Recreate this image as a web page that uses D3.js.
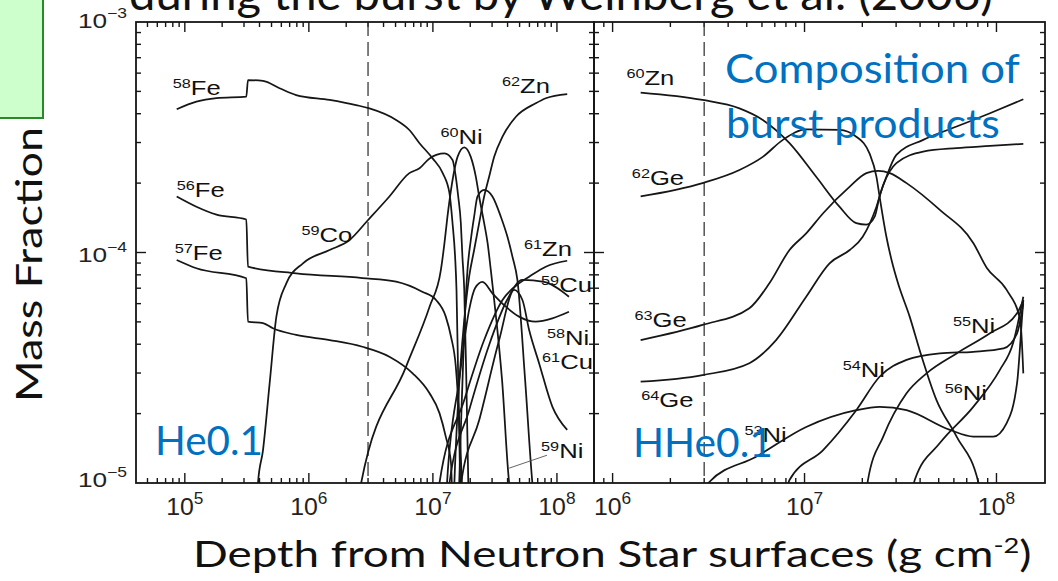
<!DOCTYPE html>
<html><head><meta charset="utf-8">
<script src="https://cdn.jsdelivr.net/npm/d3@7"></script>
<style>body{margin:0;background:#fff;} svg{display:block}</style>
</head><body><svg id="c" width="1058" height="581"></svg>
<script>
// ---------------- DATA ----------------
const yDomain = [1e-5, 1e-3];
const leftXDomain = [4.04e4, 1.99e8];
const rightXDomain = [8.0e5, 1.79e8];
const leftXTicks = [1e5, 1e6, 1e7, 1e8];
const rightXTicks = [1e6, 1e7, 1e8];
const yTickValues = [1e-3, 1e-4, 1e-5];
const dashedDepth = 3e6;

// He0.1 panel (depth g/cm^2, mass fraction)
const fe58 = [[8.6e4,4.18e-4],[1.24e5,4.51e-4],[1.8e5,4.67e-4],[3.13e5,4.74e-4],[3.23e5,5.6e-4],[4.27e5,5.55e-4],[5.8e5,5.16e-4],[7.9e5,4.82e-4],[1.47e6,4.59e-4],[2.4e6,4.36e-4],[3.08e6,4.22e-4],[5.05e6,3.76e-4],[6.46e6,3.4e-4],[7.8e6,2.98e-4],[9.95e6,2.56e-4],[1.2e7,2.21e-4],[1.36e7,1.81e-4],[1.44e7,1.34e-4],[1.51e7,9.59e-5],[1.55e7,6.88e-5],[1.6e7,2.8e-5],[1.66e7,1e-5],[1.68e7,8e-6]];
const fe56 = [[8.6e4,1.75e-4],[1.24e5,1.58e-4],[1.8e5,1.46e-4],[3.13e5,1.39e-4],[3.23e5,8.68e-5],[7.9e5,8.12e-5],[2.7e6,7.75e-5],[5.05e6,7.47e-5],[8.2e6,6.76e-5],[1.06e7,6.22e-5],[1.27e7,5.27e-5],[1.4e7,4.31e-5],[1.53e7,3.2e-5],[1.63e7,1.87e-5],[1.71e7,1e-5],[1.73e7,8e-6]];
const fe57 = [[8.6e4,9.28e-5],[1.24e5,8.54e-5],[3.13e5,7.73e-5],[3.23e5,5.01e-5],[4.27e5,4.94e-5],[5.13e5,4.69e-5],[7.9e5,4.39e-5],[1.47e6,4.17e-5],[2.7e6,3.9e-5],[4.46e6,3.53e-5],[6.87e6,2.99e-5],[9.4e6,2.45e-5],[1.13e7,2.01e-5],[1.27e7,1.59e-5],[1.4e7,1.22e-5],[1.42e7,1e-5],[1.44e7,8e-6]];
const co59 = [[3.8e5,8e-6],[3.89e5,1e-5],[4.27e5,1.39e-5],[4.83e5,2.71e-5],[5.47e5,5.27e-5],[6.58e5,7.35e-5],[8.96e5,8.98e-5],[1.47e6,1.025e-4],[2.12e6,1.13e-4],[2.99e6,1.38e-4],[4.46e6,1.75e-4],[6.46e6,2.21e-4],[7.8e6,2.32e-4],[9.4e6,2.56e-4],[1.24e7,2.69e-4],[1.44e7,2.52e-4],[1.53e7,2.13e-4],[1.6e7,1.75e-4],[1.68e7,1.34e-4],[1.73e7,9.59e-5],[1.79e7,6.88e-5],[1.86e7,2.8e-5],[1.93e7,1e-5],[1.95e7,8e-6]];
const ni60 = [[2.5e6,8.5e-6],[2.64e6,1e-5],[6.08e6,3.2e-5],[9.4e6,5.82e-5],[1.16e7,8.4e-5],[1.24e7,1.1e-4],[1.31e7,1.43e-4],[1.4e7,1.87e-4],[1.49e7,2.28e-4],[1.58e7,2.6e-4],[1.79e7,2.86e-4],[2.02e7,2.6e-4],[2.22e7,2.13e-4],[2.36e7,1.75e-4],[2.59e7,1.34e-4],[2.76e7,1.1e-4],[2.93e7,8.4e-5],[3.12e7,6.22e-5],[3.61e7,2.8e-5],[4.12e7,1e-5],[4.3e7,8.5e-6]];
const peakA = [[1.6e7,8e-6],[1.63e7,1e-5],[1.69e7,1.87e-5],[1.79e7,4.61e-5],[1.9e7,8.4e-5],[2.02e7,1.13e-4],[2.15e7,1.43e-4],[2.29e7,1.75e-4],[2.59e7,1.87e-4],[3.02e7,1.75e-4],[3.53e7,1.43e-4],[3.99e7,1.17e-4],[4.38e7,9.59e-5],[4.8e7,7.6e-5],[5.54e7,2.8e-5],[6.34e7,1e-5],[6.6e7,8e-6]];
const zn62 = [[1.47e7,8e-6],[1.49e7,1e-5],[1.6e7,2.29e-5],[1.79e7,5.09e-5],[1.96e7,7.85e-5],[2.15e7,1.025e-4],[2.36e7,1.34e-4],[2.59e7,1.75e-4],[2.84e7,2.13e-4],[3.12e7,2.6e-4],[3.64e7,3.18e-4],[4.67e7,3.88e-4],[6.75e7,4.44e-4],[8.13e7,4.67e-4],[1.21e8,4.87e-4]];
const zn61 = [[1.1e7,8e-6],[1.13e7,1e-5],[1.79e7,2.29e-5],[2.59e7,4.17e-5],[3.64e7,6.22e-5],[4.95e7,7.35e-5],[5.97e7,7.85e-5],[8.13e7,8.68e-5],[1.21e8,9.21e-5]];
const cu59 = [[1.33e7,8e-6],[1.36e7,1e-5],[1.96e7,2.07e-5],[2.84e7,3.97e-5],[3.96e7,6.22e-5],[5.27e7,7.6e-5],[7.87e7,7.45e-5],[1.25e8,6.43e-5]];
const cu61 = [[1.66e7,8e-6],[1.69e7,1e-5],[2.36e7,1.87e-5],[3.42e7,4.17e-5],[4.52e7,6.88e-5],[5.27e7,6.22e-5],[5.97e7,4.61e-5],[7.18e7,3.31e-5],[9.2e7,2.14e-5],[1.21e8,1.7e-5]];
const ni58 = [[1.27e7,8e-6],[1.3e7,1e-5],[1.63e7,2.8e-5],[1.96e7,5.64e-5],[2.19e7,7.01e-5],[2.51e7,7.45e-5],[3.02e7,6.65e-5],[3.87e7,5.82e-5],[4.95e7,5.27e-5],[6.75e7,5.01e-5],[9.2e7,5.18e-5],[1.25e8,5.53e-5]];

// HHe0.1 panel
const zn60 = [[1.4e6,4.94e-4],[2.94e6,4.59e-4],[4.58e6,4.22e-4],[6.06e6,3.76e-4],[8.35e6,2.98e-4],[1.15e7,2.13e-4],[1.52e7,1.58e-4],[1.86e7,1.34e-4],[2.1e7,1.32e-4],[2.32e7,1.43e-4],[2.46e7,1.75e-4],[2.67e7,2.13e-4],[3.01e7,2.65e-4],[4.15e7,3.08e-4],[6.2e7,3.52e-4],[9.25e7,4.02e-4],[1.38e8,4.62e-4]];
const ge62 = [[1.4e6,1.75e-4],[2.94e6,2e-4],[4.58e6,2.28e-4],[6.06e6,2.6e-4],[7.71e6,3.08e-4],[1.02e7,3.42e-4],[1.52e7,3.4e-4],[1.86e7,3.18e-4],[2.18e7,2.69e-4],[2.37e7,2.13e-4],[2.46e7,1.75e-4],[2.67e7,1.17e-4],[2.84e7,9.28e-5],[3.07e7,7.35e-5],[3.53e7,5.27e-5],[3.98e7,3.77e-5],[4.87e7,2.29e-5],[6.2e7,1.59e-5],[8.04e7,1.01e-5],[8.3e7,9e-6]];
const ge63 = [[1.4e6,4.17e-5],[2.94e6,4.85e-5],[5.16e6,5.73e-5],[6.56e6,7.35e-5],[8.35e6,1.025e-4],[1.02e7,1.21e-4],[1.25e7,1.48e-4],[1.72e7,1.93e-4],[2.1e7,2.21e-4],[2.42e7,2.26e-4],[2.78e7,2.21e-4],[3.4e7,2e-4],[5.07e7,1.53e-4],[7.57e7,1.1e-4],[8.91e7,8.57e-5],[1.13e8,6.88e-5],[1.33e8,5.09e-5],[1.38e8,2.99e-5]];
const ge64 = [[1.4e6,2.75e-5],[2.94e6,2.94e-5],[5.16e6,3.31e-5],[7.11e6,4.17e-5],[1.02e7,6.43e-5],[1.35e7,8.98e-5],[1.72e7,1.025e-4],[2.01e7,1.17e-4],[2.37e7,1.58e-4],[2.57e7,1.96e-4],[3.01e7,2.44e-4],[4.15e7,2.74e-4],[6.2e7,2.84e-4],[9.25e7,2.9e-4],[1.38e8,2.96e-4]];
const ni53 = [[3.0e6,9.5e-6],[3.19e6,1.01e-5],[5.6e6,1.3e-5],[1.02e7,1.75e-5],[1.86e7,2.07e-5],[2.46e7,2.14e-5],[3.4e7,2.07e-5],[5.72e7,1.7e-5],[7.57e7,1.59e-5],[9.62e7,1.59e-5],[1.13e8,1.82e-5],[1.28e8,2.71e-5],[1.36e8,5.27e-5],[1.38e8,6.22e-5]];
const ni54 = [[8.0e6,9e-6],[8.35e6,1.03e-5],[1.25e7,1.39e-5],[1.86e7,2.07e-5],[2.46e7,2.89e-5],[3.4e7,3.42e-5],[5.07e7,3.65e-5],[7.57e7,3.71e-5],[1.09e8,3.84e-5],[1.28e8,4.46e-5],[1.38e8,6.0e-5]];
const ni55 = [[2.1e7,9e-6],[2.14e7,1.03e-5],[2.57e7,1.59e-5],[3.4e7,2.45e-5],[4.32e7,2.99e-5],[6.2e7,3.65e-5],[9.25e7,4.46e-5],[1.28e8,5.45e-5],[1.38e8,6.22e-5]];
const ni56 = [[3.65e7,9e-6],[3.75e7,1.03e-5],[5.07e7,1.49e-5],[7.57e7,2.14e-5],[1.04e8,3.09e-5],[1.22e8,4.04e-5],[1.38e8,6.43e-5]];

const leftCurves = [fe58, fe56, fe57, co59, ni60, peakA, zn62, zn61, cu59, cu61, ni58];
const rightCurves = [zn60, ge62, ge63, ge64, ni53, ni54, ni55, ni56];

// isotope labels (anchored in data coordinates)
const leftLabels = [
  {a:"58", el:"Fe", x:8.0e4, y:4.82e-4},
  {a:"56", el:"Fe", x:8.6e4, y:1.74e-4},
  {a:"57", el:"Fe", x:8.3e4, y:9.28e-5},
  {a:"59", el:"Co", x:8.73e5, y:1.11e-4},
  {a:"60", el:"Ni", x:1.15e7, y:2.96e-4},
  {a:"62", el:"Zn", x:3.61e7, y:4.92e-4},
  {a:"61", el:"Zn", x:5.43e7, y:9.66e-5},
  {a:"59", el:"Cu", x:7.45e7, y:6.75e-5},
  {a:"58", el:"Ni", x:8.32e7, y:3.97e-5},
  {a:"61", el:"Cu", x:7.59e7, y:3.13e-5},
  {a:"59", el:"Ni", x:7.45e7, y:1.28e-5}
];
const ni59Leader = [[8.32e7,1.32e-5],[4.12e7,1.16e-5]];
const rightLabels = [
  {a:"60", el:"Zn", x:1.18e6, y:5.33e-4},
  {a:"62", el:"Ge", x:1.26e6, y:1.96e-4},
  {a:"63", el:"Ge", x:1.30e6, y:4.75e-5},
  {a:"64", el:"Ge", x:1.41e6, y:2.14e-5},
  {a:"53", el:"Ni", x:4.86e6, y:1.51e-5},
  {a:"54", el:"Ni", x:1.58e7, y:2.88e-5},
  {a:"55", el:"Ni", x:5.93e7, y:4.48e-5},
  {a:"56", el:"Ni", x:5.38e7, y:2.29e-5}
];

// ---------------- DRAWING ----------------
const svg = d3.select("#c");
svg.append("rect").attr("width",1058).attr("height",581).attr("fill","#fff");

const yS = d3.scaleLog().domain(yDomain).range([483, 22]);
const xL = d3.scaleLog().domain(leftXDomain).range([136, 594]);
const xR = d3.scaleLog().domain(rightXDomain).range([594, 1045]);

const INK = "#161616";
const TICKFONT = "'Liberation Sans', Arial, Helvetica, sans-serif";
const BIGFONT = "Lato, 'Open Sans', sans-serif";

function logTicks(dom){
  const out=[]; const a=dom[0], b=dom[1];
  for(let d=Math.floor(Math.log10(a)); d<=Math.ceil(Math.log10(b)); d++)
    for(let k=1;k<10;k++){ const v=k*Math.pow(10,d); if(v>=a*1.0001 && v<=b*0.9999) out.push({v, major:k===1}); }
  return out;
}

function drawPanel(id, xs, curves, labels){
  const g = svg.append("g");
  const [x0,x1] = xs.range(); const y1 = yS.range()[0], y0 = yS.range()[1];
  const clipId = "clip"+id;
  svg.append("defs").append("clipPath").attr("id",clipId).append("rect")
    .attr("x",x0).attr("y",y0).attr("width",x1-x0).attr("height",y1-y0);
  // ticks
  const tg = g.append("g").attr("stroke",INK).attr("stroke-width",1.4);
  logTicks(xs.domain()).forEach(t=>{
    const px = xs(t.v), len = t.major?10:5;
    tg.append("line").attr("x1",px).attr("x2",px).attr("y1",y1).attr("y2",y1-len);
    tg.append("line").attr("x1",px).attr("x2",px).attr("y1",y0).attr("y2",y0+len);
  });
  logTicks(yS.domain()).forEach(t=>{
    const py = yS(t.v), len = t.major?10:5;
    tg.append("line").attr("x1",x0).attr("x2",x0+len).attr("y1",py).attr("y2",py);
    tg.append("line").attr("x1",x1).attr("x2",x1-len).attr("y1",py).attr("y2",py);
  });
  // dashed line
  g.append("line").attr("x1",xs(dashedDepth)).attr("x2",xs(dashedDepth))
    .attr("y1",y0).attr("y2",y1).attr("stroke","#3a3a3a").attr("stroke-width",1.3)
    .attr("stroke-dasharray","14,6");
  // curves
  const line = d3.line().x(d=>xs(d[0])).y(d=>yS(d[1])).curve(d3.curveMonotoneX);
  const cg = g.append("g").attr("clip-path",`url(#${clipId})`);
  curves.forEach(c=>{
    cg.append("path").attr("d",line(c)).attr("fill","none").attr("stroke",INK).attr("stroke-width",1.75);
  });
  // frame
  g.append("rect").attr("x",x0).attr("y",y0).attr("width",x1-x0).attr("height",y1-y0)
    .attr("fill","none").attr("stroke",INK).attr("stroke-width",1.8);
  // isotope labels
  labels.forEach(d=>{
    const t = g.append("text").attr("font-family",TICKFONT).attr("fill","#111")
      .attr("transform",`translate(${xs(d.x)},${yS(d.y)}) scale(1.25,1)`);
    t.append("tspan").attr("font-size",13).attr("dy",-7).text(d.a);
    t.append("tspan").attr("font-size",20.5).attr("dy",7).text(d.el);
  });
  return g;
}

const gL = drawPanel("L", xL, leftCurves, leftLabels);
gL.append("line").attr("x1",xL(ni59Leader[0][0])).attr("y1",yS(ni59Leader[0][1]))
  .attr("x2",xL(ni59Leader[1][0])).attr("y2",yS(ni59Leader[1][1]))
  .attr("stroke","#555").attr("stroke-width",0.9);
drawPanel("R", xR, rightCurves, rightLabels);

// x tick labels
function xLabels(xs, ticks){
  ticks.forEach(v=>{
    const t = svg.append("text").attr("font-family",TICKFONT).attr("fill","#222")
      .attr("text-anchor","middle").attr("transform",`translate(${xs(v)},515) scale(1.08,1)`);
    t.append("tspan").attr("font-size",23).text("10");
    t.append("tspan").attr("font-size",16).attr("dy",-11).text(String(Math.round(Math.log10(v))));
  });
}
xLabels(xL, leftXTicks);
xLabels(xR, rightXTicks);

// y tick labels
const yLabelBase = {"-3":28, "-4":262, "-5":487};
yTickValues.forEach(v=>{
  const e = String(Math.round(Math.log10(v)));
  const t = svg.append("text").attr("font-family",TICKFONT).attr("fill","#222")
    .attr("text-anchor","end").attr("transform",`translate(127,${yLabelBase[e]}) scale(1.25,1)`);
  t.append("tspan").attr("font-size",21).text("10");
  t.append("tspan").attr("font-size",14).attr("dy",-10).text("\u2212"+e.replace("-",""));
});

// helper: stretch a text to fit horizontal span
function fitText(sel, x0, x1, y){
  const bb = sel.node().getBBox();
  const s = (x1-x0)/bb.width;
  sel.attr("transform",`translate(${x0 - bb.x*s},${y}) scale(${s},1)`);
}

// green box
svg.append("rect").attr("x",-2).attr("y",-2).attr("width",45).attr("height",120)
  .attr("fill","#ccffcc").attr("stroke","#2a8a2a").attr("stroke-width",2);

// title (clipped at top)
const title = svg.append("text").attr("font-family",BIGFONT).attr("font-size",44).attr("fill","#111")
  .text("during the burst by Weinberg et al. (2006)");
fitText(title, 129, 993, 10);

// axis titles
const ytitle = svg.append("text").attr("font-family",BIGFONT).attr("font-size",37).attr("fill","#111")
  .text("Mass Fraction");
{ const bb = ytitle.node().getBBox(); const s = 275/bb.width;
  ytitle.attr("transform",`translate(42,402) rotate(-90) scale(${s},1)`); }

const xtitle = svg.append("text").attr("font-family",BIGFONT).attr("font-size",37).attr("fill","#111");
xtitle.append("tspan").text("Depth from  Neutron Star surfaces (g cm");
xtitle.append("tspan").attr("font-size",22).attr("dy",-14).text("-2");
xtitle.append("tspan").attr("dy",14).text(")");
fitText(xtitle, 193, 1032, 567);

// blue annotations
const BLUE = "#0070c0";
const c1 = svg.append("text").attr("font-family",BIGFONT).attr("font-size",40).attr("fill",BLUE).text("Composition  of");
fitText(c1, 725, 1020, 83);
const c2 = svg.append("text").attr("font-family",BIGFONT).attr("font-size",40).attr("fill",BLUE).text("burst products");
fitText(c2, 726, 1000, 138);
const h1 = svg.append("text").attr("font-family",BIGFONT).attr("font-size",40).attr("fill",BLUE).text("He0.1");
fitText(h1, 155, 263, 455);
const h2 = svg.append("text").attr("font-family",BIGFONT).attr("font-size",40).attr("fill",BLUE).text("HHe0.1");
fitText(h2, 633, 773, 457);
</script></body></html>
